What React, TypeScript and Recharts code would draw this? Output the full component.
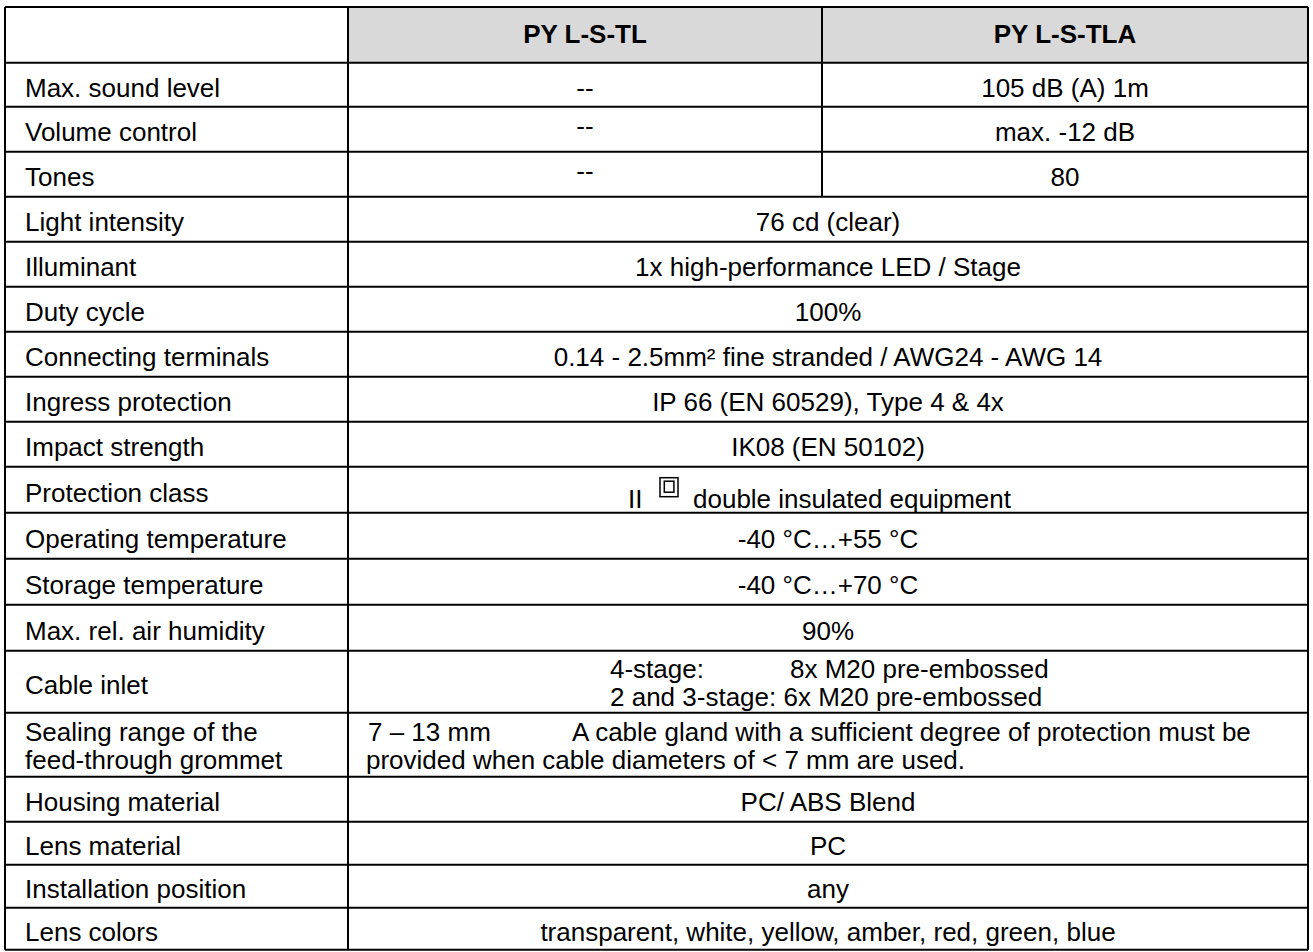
import React from 'react';
import { ComposedChart, XAxis, YAxis, Scatter, ReferenceLine, ReferenceArea } from 'recharts';

const FONT = '"Liberation Sans", Arial, Helvetica, sans-serif';
const W = 1313;
const H = 952;

// table content
const headers = ['PY L-S-TL', 'PY L-S-TLA'];
const params = [
  'Max. sound level', 'Volume control', 'Tones', 'Light intensity', 'Illuminant', 'Duty cycle',
  'Connecting terminals', 'Ingress protection', 'Impact strength', 'Protection class',
  'Operating temperature', 'Storage temperature', 'Max. rel. air humidity', 'Cable inlet',
  'Sealing range of the|feed-through grommet', 'Housing material', 'Lens material',
  'Installation position', 'Lens colors',
];
const tlValues = ['--', '--', '--'];
const tlaValues = ['105 dB (A) 1m', 'max. -12 dB', '80'];
const sharedValues = [
  '76 cd (clear)', '1x high-performance LED / Stage', '100%',
  '0.14 - 2.5mm² fine stranded / AWG24 - AWG 14', 'IP 66 (EN 60529), Type 4 & 4x',
  'IK08 (EN 50102)', 'double insulated equipment', '-40 °C…+55 °C', '-40 °C…+70 °C', '90%',
  '', '', 'PC/ ABS Blend', 'PC', 'any', 'transparent, white, yellow, amber, red, green, blue',
];
const protectionPrefix = 'II';
const cableInlet = [['4-stage:', '8x M20 pre-embossed'], ['2 and 3-stage:', '6x M20 pre-embossed']];
const sealingRange = ['7 – 13 mm', 'A cable gland with a sufficient degree of protection must be', 'provided when cable diameters of < 7 mm are used.'];

// layout (px)
const TOP = 7;
const LEFT = 5;
const RIGHT = 1308;
const COL1 = 348;
const COL2 = 822;
const HEADER_H = 55.7;
const rowHeights = [44, 45, 45, 45, 45, 45, 45, 45, 45, 46, 46, 46, 46, 62, 64, 45, 43, 43, 42];

const rowTops: number[] = [];
{
  let y = TOP + HEADER_H;
  rowHeights.forEach(h => { rowTops.push(y); y += h; });
}
const BOTTOM = rowTops[rowTops.length - 1] + rowHeights[rowHeights.length - 1];
const MID = (COL1 + RIGHT) / 2;

type Pt = { x: number; y: number; text: string; anchor?: string; bold?: boolean };
const texts: Pt[] = [];

texts.push({ x: (COL1 + COL2) / 2, y: TOP + 36, text: headers[0], anchor: 'middle', bold: true });
texts.push({ x: (COL2 + RIGHT) / 2, y: TOP + 36, text: headers[1], anchor: 'middle', bold: true });

params.forEach((p, i) => {
  const top = rowTops[i];
  const h = rowHeights[i];
  const base = top + h / 2 + 12;
  if (p.includes('|')) {
    const [a, b] = p.split('|');
    texts.push({ x: 25, y: top + 28, text: a, anchor: 'start' });
    texts.push({ x: 25, y: top + 56, text: b, anchor: 'start' });
  } else {
    texts.push({ x: 25, y: base, text: p, anchor: 'start' });
  }
  if (i < 3) {
    texts.push({ x: (COL1 + COL2) / 2, y: base - (i > 0 ? 6 : 0), text: tlValues[i], anchor: 'middle' });
    texts.push({ x: (COL2 + RIGHT) / 2, y: base, text: tlaValues[i], anchor: 'middle' });
    return;
  }
  const v = sharedValues[i - 3];
  if (i === 9) {
    texts.push({ x: 628, y: top + 41, text: protectionPrefix, anchor: 'start' });
    texts.push({ x: 693, y: top + 41, text: v, anchor: 'start' });
  } else if (i === 13) {
    texts.push({ x: 610, y: top + 27, text: cableInlet[0][0], anchor: 'start' });
    texts.push({ x: 790, y: top + 27, text: cableInlet[0][1], anchor: 'start' });
    texts.push({ x: 610, y: top + 55, text: cableInlet[1][0] + ' ' + cableInlet[1][1], anchor: 'start' });
  } else if (i === 14) {
    texts.push({ x: 368, y: top + 28, text: sealingRange[0], anchor: 'start' });
    texts.push({ x: 572, y: top + 28, text: sealingRange[1], anchor: 'start' });
    texts.push({ x: 366, y: top + 56, text: sealingRange[2], anchor: 'start' });
  } else {
    texts.push({ x: MID, y: base, text: v, anchor: 'middle' });
  }
});

const symbolPts = [{ x: 669, y: rowTops[9] + 20.5 }];

const hLines = [TOP, TOP + HEADER_H, ...rowTops.slice(1), BOTTOM];

const TextMark = (props: any) => {
  const { cx, cy, payload } = props;
  return (
    <text x={cx} y={cy} textAnchor={payload.anchor} fontFamily={FONT} fontSize={26}
      fontWeight={payload.bold ? 700 : 400} fill="#000">
      {payload.text}
    </text>
  );
};

const DoubleSquare = (props: any) => {
  const { cx, cy } = props;
  return (
    <g fill="none" stroke="#000" strokeWidth={1.5}>
      <rect x={cx - 9} y={cy - 9.5} width={18} height={19} />
      <rect x={cx - 4.7} y={cy - 6} width={9.6} height={11} />
    </g>
  );
};

export default function App() {
  return (
    <div style={{ width: W, height: H, background: '#fff' }}>
      <style>{'body{margin:0;background:#fff}'}</style>
      <ComposedChart width={W} height={H} margin={{ top: 0, right: 0, bottom: 0, left: 0 }}>
        <XAxis type="number" dataKey="x" domain={[0, W]} hide height={0} />
        <YAxis type="number" dataKey="y" domain={[0, H]} reversed hide width={0} />
        <ReferenceArea x1={COL1} x2={RIGHT} y1={TOP} y2={TOP + HEADER_H} fill="#d9d9d9" fillOpacity={1} stroke="none" />
        {hLines.map((y, i) => (
          <ReferenceLine key={'h' + i} segment={[{ x: LEFT, y }, { x: RIGHT, y }]} stroke="#000" strokeWidth={2} />
        ))}
        <ReferenceLine segment={[{ x: LEFT, y: TOP }, { x: LEFT, y: BOTTOM }]} stroke="#000" strokeWidth={2} />
        <ReferenceLine segment={[{ x: COL1, y: TOP }, { x: COL1, y: BOTTOM }]} stroke="#000" strokeWidth={2} />
        <ReferenceLine segment={[{ x: COL2, y: TOP }, { x: COL2, y: rowTops[3] }]} stroke="#000" strokeWidth={2} />
        <ReferenceLine segment={[{ x: RIGHT, y: TOP }, { x: RIGHT, y: BOTTOM }]} stroke="#000" strokeWidth={2} />
        <Scatter data={texts} shape={TextMark} isAnimationActive={false} />
        <Scatter data={symbolPts} shape={DoubleSquare} isAnimationActive={false} />
      </ComposedChart>
    </div>
  );
}
